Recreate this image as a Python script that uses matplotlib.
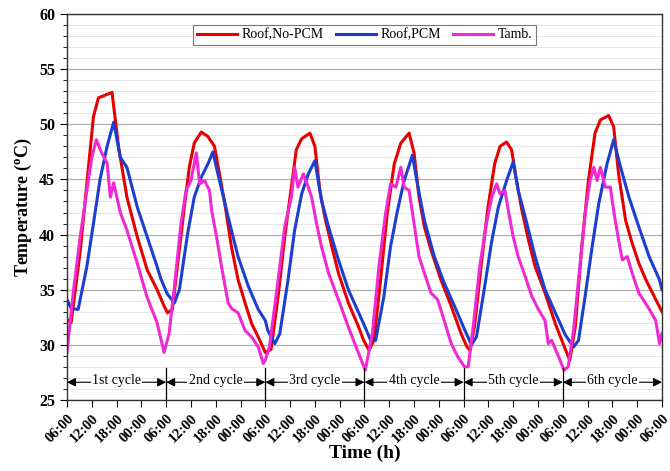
import numpy as np
import matplotlib.pyplot as plt
from matplotlib.ticker import MultipleLocator

plt.rcParams['font.family'] = ['Liberation Serif', 'DejaVu Serif']
plt.rcParams['mathtext.fontset'] = 'custom'
plt.rcParams['mathtext.rm'] = 'Liberation Serif'
plt.rcParams['mathtext.bf'] = 'Liberation Serif:bold'

# hours from 06:00 of day 1, temperature in degC
t_nopcm = [0, 1, 3.2, 6.4, 7.6, 10.9, 12.5, 14.5, 17, 19.4, 21.8, 23.4, 24.3,
           25.5, 26.8, 28.4, 29.6, 30.8, 32.5, 34.1, 35.7, 36.9, 38.2, 39.8, 41.4, 43.1, 44.7, 46.3, 48,
           49.4, 51.1, 52.7, 54.3, 55.5, 56.8, 58.8, 60, 61.2, 62.4, 64.1, 65.7, 68.1, 70.6,
           71.8, 73.1, 74.3, 75.9, 77.5, 79.2, 80.8, 82.8, 84, 85.2, 86.5, 88.1, 90.5, 93, 95.4,
           96.8, 97.6, 98.7, 100.3, 101.9, 103.5, 104.8, 106.4, 107.6, 108.8, 110.1, 111.7, 113.3, 115.7, 118.2, 120.6,
           121.7, 123, 124.6, 126.2, 127.8, 129.1, 131.1, 132.3, 133.5, 135.2, 136.8, 138.4, 140.1, 142.5, 144]
T_nopcm = [32.3, 32.0, 38.5, 50.7, 52.4, 52.9, 47.9, 43.4, 39.8, 36.8, 35.0, 33.6, 32.9,
           33.2, 37.4, 42.5, 46.1, 48.3, 49.3, 48.9, 48.0, 45.5, 42.8, 38.9, 35.9, 33.8, 31.9, 30.7, 29.3,
           29.6, 34.4, 39.8, 44.3, 47.7, 48.7, 49.2, 48.0, 44.0, 41.6, 38.9, 36.5, 33.8, 31.6,
           30.4, 29.5, 30.4, 35.9, 41.9, 46.4, 48.3, 49.2, 47.4, 43.4, 40.7, 38.6, 35.9, 33.5, 31.0,
           29.8, 29.5, 31.9, 37.4, 42.5, 46.4, 48.0, 48.4, 47.7, 44.9, 42.2, 39.5, 37.1, 34.7, 31.9, 29.6,
           28.6, 31.6, 38.9, 44.9, 49.2, 50.4, 50.8, 49.8, 45.5, 41.3, 39.2, 37.4, 35.9, 34.1, 33.0]

t_pcm = [0, 1, 2.7, 4.8, 6.4, 8, 9.7, 11.3, 12.9, 14.5, 17, 19.4, 21.8, 22.7, 24.3,
         26, 27.2, 29.2, 30.8, 32.5, 34.1, 35.3, 36.9, 39, 41.4, 43.9, 46.3, 48,
         48.6, 50.3, 51.5, 53.5, 55.1, 56.8, 58.4, 60, 61.6, 63.3, 65.7, 68.1, 70.6,
         71.8, 73.5, 74.7, 76.7, 78.3, 80, 81.6, 83.6, 84.8, 86.5, 88.9, 91.3, 93.8,
         96.2, 97.9, 99.1, 101.1, 102.7, 104.4, 106.4, 108, 109.2, 110.9, 113.3, 115.7, 118.2, 120.6,
         122.6, 123.8, 125.4, 127.1, 128.7, 130.7, 132.3, 134, 136, 138.4, 140.9, 143.4, 144]
T_pcm = [34.1, 33.3, 33.2, 37.1, 41.0, 45.0, 48.0, 50.2, 47.0, 46.1, 42.5, 39.8, 37.1, 36.0, 34.6,
         33.8, 35.0, 40.1, 43.4, 45.2, 46.4, 47.5, 44.9, 41.6, 38.0, 35.3, 33.2, 32.2,
         31.3, 30.1, 31.0, 35.9, 40.4, 43.7, 45.5, 46.7, 43.1, 40.7, 37.7, 35.0, 32.9,
         31.9, 30.4, 30.4, 34.4, 38.9, 42.2, 44.9, 47.2, 44.6, 41.3, 38.0, 35.6, 33.5,
         31.4, 30.0, 30.7, 35.3, 39.2, 42.5, 44.9, 46.6, 44.0, 41.6, 38.0, 35.0, 32.9, 30.9,
         29.8, 30.4, 34.4, 38.9, 42.8, 46.4, 48.6, 46.1, 43.4, 40.7, 38.0, 35.9, 35.0]

t_amb = [0, 1.5, 3.2, 4.8, 6, 7.1, 8.4, 9.7, 10.5, 11.3, 12.9, 14.5, 17, 19.4, 21.8, 23.5,
         24.7, 26, 27.6, 28.8, 30, 31.3, 32.1, 33.3, 34.5, 35, 36.2, 37.4, 39, 39.8, 41.4, 43.1, 44.7, 46.3, 47.5,
         48, 49, 51.1, 52.7, 54.3, 55.1, 55.9, 57.2, 58.4, 59.2, 60.4, 61.6, 63.3, 65.7, 68.1, 70.6, 72.2,
         73.9, 75.5, 77.1, 78.3, 79.6, 80.8, 81.6, 82.8, 84, 85.2, 86.5, 88.1, 89.7, 91.3, 93, 94.6, 96.2,
         97.1, 98.3, 99.9, 101.5, 102.8, 104, 104.8, 106, 106.8, 108, 109.2, 110.9, 112.5, 114.1, 115.7,
         116.5, 117.3, 119, 120.3,
         121.3, 122.6, 124.2, 125.4, 126.6, 127.5, 128.3, 129.1, 130.3, 131.5, 132.3, 133.5, 134.4, 135.6,
         136.8, 138.4, 140.5, 142.5, 143.4, 144]
T_amb = [29.3, 34.7, 39.8, 44.0, 47.0, 48.6, 47.4, 46.5, 43.4, 44.7, 42.0, 40.4, 37.4, 34.3, 32.0, 29.3,
         31.0, 35.3, 41.0, 44.0, 44.9, 47.4, 44.6, 44.9, 44.0, 42.2, 39.8, 37.1, 33.8, 33.3, 32.9, 31.3, 30.7, 29.8, 28.3,
         28.6, 29.8, 35.9, 40.7, 43.4, 46.1, 44.3, 45.5, 44.3, 43.4, 41.0, 38.9, 36.5, 34.1, 31.6, 29.2, 27.7,
         31.0, 37.1, 41.9, 44.6, 44.3, 46.1, 44.3, 44.0, 41.0, 38.0, 36.5, 34.7, 34.1, 32.2, 30.1, 28.9, 28.0,
         28.0, 31.6, 37.1, 41.0, 43.4, 44.6, 43.7, 44.0, 42.2, 39.8, 38.0, 36.2, 34.4, 33.2, 32.2,
         30.1, 30.4, 28.9, 27.7,
         28.0, 31.3, 37.4, 41.9, 44.9, 46.1, 44.9, 46.1, 44.3, 44.3, 42.2, 39.5, 37.7, 38.0,
         36.5, 34.7, 33.5, 32.2, 30.1, 31.0]

tick_hours = np.arange(0, 145, 6)
tick_names = ['06:00', '12:00', '18:00', '00:00'] * 6 + ['06:00']
cycle_names = ['1st cycle', '2nd cycle', '3rd cycle', '4th cycle', '5th cycle', '6th cycle']
cycle_edges = np.arange(0, 145, 24)

fig = plt.figure(figsize=(6.7, 4.71), dpi=100)
ax = fig.add_axes([0.1, 0.151, 0.888, 0.819])

ax.plot(t_nopcm, T_nopcm, color='#e60000', lw=2.2, label='Roof,No-PCM')
ax.plot(t_pcm, T_pcm, color='#1c3fcf', lw=2.2, label='Roof,PCM')
ax.plot(t_amb, T_amb, color='#f02ad2', lw=2.2, label='Tamb.')

ax.set_xlim(0, 144)
ax.set_ylim(25, 60)
ax.yaxis.set_major_locator(MultipleLocator(5))
ax.yaxis.set_minor_locator(MultipleLocator(1))
ax.grid(which='major', axis='y', color='#b0b0b0', lw=0.9)
ax.grid(which='minor', axis='y', color='#e6e6e6', lw=0.7)
ax.set_axisbelow(True)
ax.set_xticks(tick_hours)
ax.set_xticklabels(tick_names, rotation=45, ha='right', rotation_mode='anchor',
                   fontsize=10.5, fontweight='bold')
ax.tick_params(axis='y', which='major', length=5, labelsize=11.5)
ax.tick_params(axis='y', which='minor', length=3)
ax.tick_params(axis='x', length=5)
for lab in ax.get_yticklabels():
    lab.set_fontweight('bold')
for sp in ax.spines.values():
    sp.set_linewidth(1.0)
    sp.set_color('#333333')

ax.set_ylabel('Temperature ($\\mathbf{^{o}}$C)', fontsize=13, fontweight='bold', labelpad=4)
ax.set_xlabel('Time (h)', fontsize=14, fontweight='bold', labelpad=0)

# cycle markers along the bottom
for e in cycle_edges[1:-1]:
    ax.plot([e, e], [25, 27.9], color='black', lw=0.9)
for i, name in enumerate(cycle_names):
    a, b = cycle_edges[i], cycle_edges[i + 1]
    ax.annotate('', xy=(a, 26.6), xytext=(b, 26.6),
                arrowprops=dict(arrowstyle='<|-|>', color='black', lw=0.8,
                                mutation_scale=13, shrinkA=0, shrinkB=0))
    ax.text((a + b) / 2, 26.75, name, ha='center', va='center', fontsize=10,
            bbox=dict(facecolor='white', edgecolor='none', pad=1.0))

leg = ax.legend(loc='upper center', ncol=3, fontsize=10, frameon=True, fancybox=False,
                edgecolor='#555555', handlelength=2.9, handletextpad=0.3, columnspacing=0.9,
                borderpad=0.25, bbox_to_anchor=(0.5, 0.99))
leg.get_frame().set_linewidth(0.8)

fig.savefig('out.png', dpi=100)
